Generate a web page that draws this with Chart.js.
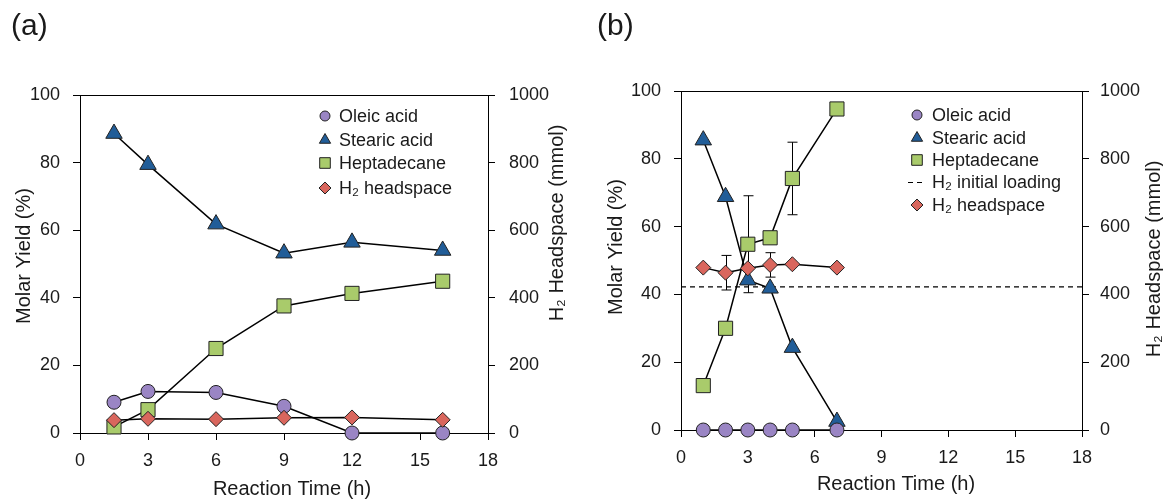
<!DOCTYPE html>
<html>
<head>
<meta charset="utf-8">
<script src="https://cdn.jsdelivr.net/npm/chart.js@4.4.1/dist/chart.umd.min.js"></script>
<style>
  html, body { margin: 0; padding: 0; background: #fff; }
  #wrap { position: relative; width: 1163px; height: 499px; overflow: hidden; }
  #chartA { position: absolute; left: 0; top: 0; }
  #chartB { position: absolute; left: 580px; top: 0; }
</style>
</head>
<body>
<div id="wrap">
  <canvas id="chartA" width="580" height="499"></canvas>
  <canvas id="chartB" width="583" height="499"></canvas>
</div>
<script>
// ---- data, panel (a) ----
const timeA = [1.5, 3, 6, 9, 12, 16];
const oleicA = [9.1, 12.3, 12.0, 7.9, 0, 0];
const stearicA = [88.6, 79.4, 61.8, 53.2, 56.4, 54.0];
const heptA = [1.8, 6.9, 25.0, 37.6, 41.3, 44.9];
const h2A = [38, 42, 41, 45, 46, 39];

// ---- data, panel (b) ----
const timeB = [1, 2, 3, 4, 5, 7];
const oleicB = [0, 0, 0, 0, 0, 0];
const stearicB = [85.5, 68.8, 44.2, 41.8, 24.3, 2.5];
const heptB = [13.1, 30.0, 54.8, 56.7, 74.2, 94.7];
const heptErrB = [0, 0, 14.3, 0, 10.7, 0];
const h2B = [479, 464, 477, 487, 489, 479];
const h2ErrB = [0, 51, 0, 36, 0, 0];
const h2InitX = [0, 18];
const h2InitY = [422, 422];

// ---- axis ticks ----
const timeTicks = [0, 3, 6, 9, 12, 15, 18];
const yieldTicks = [0, 20, 40, 60, 80, 100];
const mmolTicks = [0, 200, 400, 600, 800, 1000];

const FONT = "'Liberation Sans', Arial, sans-serif";
const TEXT = '#1a1a1a';
const PURPLE = '#9a85c4', BLUE = '#215d98', GREEN = '#a9cb6b', RED = '#d9665d';

function pts(xs, ys) {
    return xs.map((x, i) => ({ x: x, y: ys[i] }));
}

function series(label, xs, ys, style, color, radius, axis, order) {
    return {
        label: label,
        data: pts(xs, ys),
        yAxisID: axis,
        borderColor: '#000',
        borderWidth: 1.5,
        pointStyle: style,
        pointRadius: radius,
        pointBackgroundColor: color,
        pointBorderColor: '#222',
        pointBorderWidth: 1,
        order: order,
        clip: false
    };
}

// draws error bars, panel label, axis titles, top border and legend
const decorPlugin = {
    id: 'decor',
    beforeDatasetsDraw(chart, args, opts) {
        const ctx = chart.ctx;
        ctx.save();
        ctx.strokeStyle = '#000';
        ctx.lineWidth = 1;
        (opts.errorBars || []).forEach(eb => {
            const xs = chart.scales.x, ys = chart.scales[eb.axis];
            eb.x.forEach((xv, i) => {
                const e = eb.err[i];
                if (!e) return;
                const px = Math.round(xs.getPixelForValue(xv)) + 0.5;
                const top = ys.getPixelForValue(eb.y[i] + e);
                const bot = ys.getPixelForValue(eb.y[i] - e);
                ctx.beginPath();
                ctx.moveTo(px, top); ctx.lineTo(px, bot);
                ctx.moveTo(px - 5, top); ctx.lineTo(px + 5, top);
                ctx.moveTo(px - 5, bot); ctx.lineTo(px + 5, bot);
                ctx.stroke();
            });
        });
        ctx.restore();
    },
    afterDraw(chart, args, opts) {
        const ctx = chart.ctx, area = chart.chartArea;
        ctx.save();
        // top border of plot area
        ctx.strokeStyle = '#000';
        ctx.lineWidth = 1;
        ctx.beginPath();
        ctx.moveTo(area.left, Math.round(area.top) + 0.5);
        ctx.lineTo(area.right, Math.round(area.top) + 0.5);
        ctx.stroke();

        ctx.fillStyle = TEXT;
        // panel label
        ctx.font = '30px ' + FONT;
        ctx.textAlign = 'left';
        ctx.textBaseline = 'alphabetic';
        ctx.fillText(opts.panel.text, opts.panel.x, opts.panel.y);

        // axis titles
        ctx.font = '20px ' + FONT;
        ctx.textAlign = 'center';
        opts.titles.forEach(t => {
            ctx.save();
            ctx.translate(t.x, t.y);
            if (t.rotate) ctx.rotate(-Math.PI / 2);
            ctx.fillText(t.text, 0, 0);
            ctx.restore();
        });

        // legend
        const lg = opts.legend;
        ctx.font = '18px ' + FONT;
        ctx.textAlign = 'left';
        ctx.textBaseline = 'middle';
        lg.items.forEach((it, i) => {
            const y = lg.rows[i];
            if (it.dash) {
                ctx.save();
                ctx.strokeStyle = '#000';
                ctx.lineWidth = 1.2;
                ctx.setLineDash([5, 4]);
                ctx.beginPath();
                ctx.moveTo(lg.markerX - 9, y + 0.5);
                ctx.lineTo(lg.markerX + 9, y + 0.5);
                ctx.stroke();
                ctx.restore();
            } else {
                ctx.save();
                ctx.fillStyle = it.color;
                ctx.strokeStyle = '#222';
                ctx.lineWidth = 1;
                Chart.helpers.drawPoint(ctx, {
                    pointStyle: it.style, radius: it.radius, rotation: 0, borderWidth: 1
                }, lg.markerX, y);
                ctx.restore();
            }
            ctx.fillStyle = TEXT;
            ctx.fillText(it.label, lg.textX, y + 1);
        });
        ctx.restore();
    }
};

function scaleOpts(min, max, step, ticks, pos, pad, size) {
    return {
        type: 'linear',
        position: pos,
        min: min,
        max: max,
        afterBuildTicks: s => { s.ticks = ticks.map(v => ({ value: v })); },
        ticks: {
            stepSize: step,
            color: TEXT,
            font: { family: FONT, size: 18 },
            padding: pad,
            callback: v => String(v)
        },
        grid: { drawOnChartArea: false, drawTicks: true, tickLength: 7, color: '#000', lineWidth: 1 },
        border: { color: '#000', width: 1 },
        afterFit: s => {
            if (pos === 'bottom') s.height = size; else s.width = size;
        }
    };
}

function legendItems(withDash) {
    const items = [
        { label: 'Oleic acid', style: 'circle', color: PURPLE, radius: 5 },
        { label: 'Stearic acid', style: 'triangle', color: BLUE, radius: 6.5 },
        { label: 'Heptadecane', style: 'rect', color: GREEN, radius: 7.5 }
    ];
    if (withDash) items.push({ label: 'H\u2082 initial loading', dash: true });
    items.push({ label: 'H\u2082 headspace', style: 'rectRot', color: RED, radius: 6 });
    return items;
}

// Panel (a)
new Chart(document.getElementById('chartA'), {
    type: 'line',
    data: {
        datasets: [
            series('Oleic acid', timeA, oleicA, 'circle', PURPLE, 7, 'y', 1),
            series('Stearic acid', timeA, stearicA, 'triangle', BLUE, 9.5, 'y', 3),
            series('Heptadecane', timeA, heptA, 'rect', GREEN, 10, 'y', 2),
            series('H\u2082 headspace', timeA, h2A, 'rectRot', RED, 7.5, 'y2', 0)
        ]
    },
    options: {
        responsive: false,
        animation: false,
        layout: { padding: { top: 95, left: 0, right: 0, bottom: 0 } },
        scales: {
            x: scaleOpts(0, 18, 3, timeTicks, 'bottom', 10, 66),
            y: scaleOpts(0, 100, 20, yieldTicks, 'left', 13, 80),
            y2: scaleOpts(0, 1000, 200, mmolTicks, 'right', 14, 92)
        },
        plugins: {
            legend: { display: false },
            tooltip: { enabled: false },
            decor: {
                panel: { text: '(a)', x: 11, y: 35 },
                titles: [
                    { text: 'Molar Yield (%)', x: 30, y: 256, rotate: true },
                    { text: 'H\u2082 Headspace (mmol)', x: 563, y: 223, rotate: true },
                    { text: 'Reaction Time (h)', x: 292, y: 495 }
                ],
                legend: { markerX: 325, textX: 339, rows: [116, 140, 163, 188], items: legendItems(false) }
            }
        }
    },
    plugins: [decorPlugin]
});

// Panel (b)
const h2InitSet = {
    label: 'H\u2082 initial loading',
    data: pts(h2InitX, h2InitY),
    yAxisID: 'y2',
    borderColor: '#000',
    borderWidth: 1.2,
    borderDash: [5, 4],
    pointRadius: 0,
    order: 5
};

new Chart(document.getElementById('chartB'), {
    type: 'line',
    data: {
        datasets: [
            series('Oleic acid', timeB, oleicB, 'circle', PURPLE, 7, 'y', 1),
            series('Stearic acid', timeB, stearicB, 'triangle', BLUE, 9.5, 'y', 3),
            series('Heptadecane', timeB, heptB, 'rect', GREEN, 10, 'y', 2),
            h2InitSet,
            series('H\u2082 headspace', timeB, h2B, 'rectRot', RED, 7.5, 'y2', 0)
        ]
    },
    options: {
        responsive: false,
        animation: false,
        layout: { padding: { top: 91, left: 0, right: 0, bottom: 0 } },
        scales: {
            x: scaleOpts(0, 18, 3, timeTicks, 'bottom', 10, 69),
            y: scaleOpts(0, 100, 20, yieldTicks, 'left', 13, 101),
            y2: scaleOpts(0, 1000, 200, mmolTicks, 'right', 11, 81)
        },
        plugins: {
            legend: { display: false },
            tooltip: { enabled: false },
            decor: {
                panel: { text: '(b)', x: 17, y: 35 },
                titles: [
                    { text: 'Molar Yield (%)', x: 42, y: 247, rotate: true },
                    { text: 'H\u2082 Headspace (mmol)', x: 580, y: 259, rotate: true },
                    { text: 'Reaction Time (h)', x: 316, y: 490 }
                ],
                errorBars: [
                    { axis: 'y', x: timeB, y: heptB, err: heptErrB },
                    { axis: 'y2', x: timeB, y: h2B, err: h2ErrB }
                ],
                legend: { markerX: 337, textX: 352, rows: [115, 138, 160, 182, 205], items: legendItems(true) }
            }
        }
    },
    plugins: [decorPlugin]
});
</script>
</body>
</html>
